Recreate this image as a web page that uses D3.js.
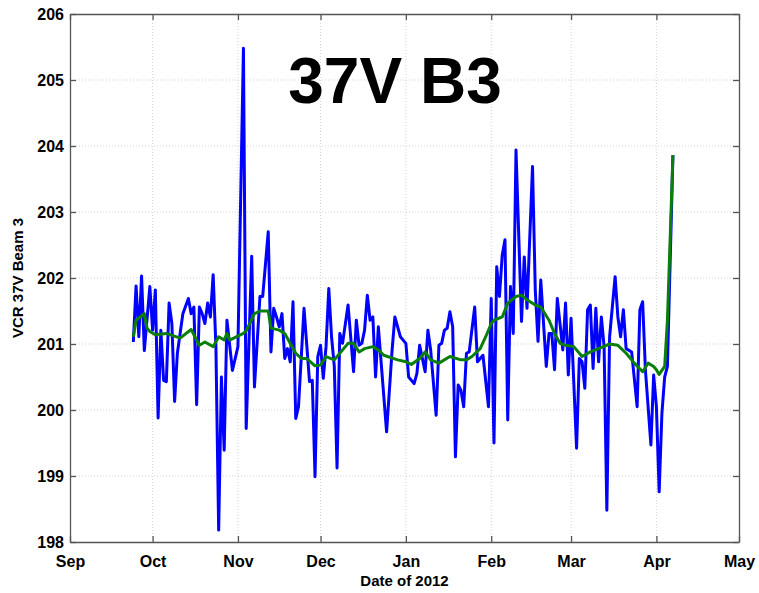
<!doctype html>
<html>
<head>
<meta charset="utf-8"/>
<title>37V B3</title>
<script src="https://d3js.org/d3.v7.min.js"></script>
<style>
body { margin: 0; background: #fff; }
text { font-family: "Liberation Sans", Arial, sans-serif; font-weight: bold; }
</style>
</head>
<body>
<svg id="svg1"></svg>
<script>
// days counted from 2011-09-01
const blueDays = [23, 24, 25, 26, 27, 29, 30, 31, 32, 33, 34, 35, 36, 37, 38, 39, 41, 43, 44, 45,
    46, 47, 48, 49, 50, 51, 52, 53, 54, 55, 56, 57, 59, 61, 63, 64, 66, 67, 69, 70,
    72, 73, 74, 75, 76, 77, 78, 79, 80, 81, 82, 83, 85, 87, 88, 89, 90, 91, 92, 93,
    94, 95, 96, 97, 98, 99, 101, 103, 104, 105, 106, 107, 108, 109, 110, 111, 112, 115, 117, 118,
    120, 122, 123, 125, 126, 127, 129, 130, 131, 133, 134, 135, 136, 137, 138, 139, 140, 141, 142, 143,
    144, 145, 147, 148, 150, 152, 153, 154, 155, 156, 157, 158, 159, 160, 161, 162, 164, 165, 166, 168,
    169, 170, 171, 173, 174, 175, 176, 177, 179, 180, 181, 182, 184, 185, 186, 187, 188, 189, 190, 191,
    192, 193, 194, 195, 196, 198, 199, 200, 201, 202, 204, 206, 207, 208, 209, 211, 212, 213, 214, 215,
    216, 217, 219];
const blueValues = [201.03, 201.88, 201.11, 202.03, 200.90, 201.87, 201.21, 201.82, 199.88, 201.21, 200.45, 200.43, 201.62, 201.31, 200.13, 200.86, 201.46, 201.69, 201.46, 201.56,
    200.08, 201.56, 201.46, 201.31, 201.62, 201.41, 202.05, 200.96, 198.18, 200.50, 199.39, 201.36, 200.60, 200.96, 205.48, 199.72, 202.33, 200.35, 201.72, 201.72,
    202.70, 200.88, 201.54, 201.41, 201.26, 201.46, 200.78, 200.93, 200.73, 201.64, 199.87, 200.05, 201.54, 200.43, 200.45, 198.99, 200.81, 200.98, 200.48, 200.96,
    201.84, 201.11, 200.66, 199.12, 201.16, 201.01, 201.59, 200.58, 201.36, 200.98, 201.01, 201.21, 201.74, 201.36, 201.41, 200.50, 201.26, 199.67, 200.91, 201.41,
    201.11, 201.01, 200.50, 200.40, 200.55, 200.98, 200.58, 201.21, 200.91, 199.92, 200.98, 201.01, 201.21, 201.24, 201.49, 201.26, 199.29, 200.38, 200.30, 200.05,
    200.86, 200.88, 201.56, 200.73, 200.83, 200.05, 201.69, 199.50, 202.17, 201.72, 202.35, 202.58, 199.85, 201.87, 201.16, 203.94, 201.34, 202.32, 201.54, 203.69,
    201.82, 201.04, 201.97, 200.66, 201.16, 201.16, 200.61, 201.69, 200.91, 201.62, 200.53, 201.39, 199.42, 200.78, 200.73, 200.33, 201.52, 201.59, 200.63, 201.54,
    200.73, 201.41, 200.96, 198.48, 201.11, 202.02, 201.41, 201.11, 201.52, 200.93, 200.88, 200.05, 201.52, 201.64, 200.61, 199.47, 200.53, 200.05, 198.76, 199.95,
    200.50, 200.66, 203.86];

const greenDays = [23, 24, 27, 28, 29, 31, 35, 40, 44, 47, 49, 52, 54, 56, 57, 58, 63, 64, 67, 69,
    72, 73, 76, 78, 82, 84, 86, 89, 91, 93, 96, 98, 101, 103, 105, 107, 110, 112, 114, 119,
    122, 124, 127, 129, 131, 134, 138, 142, 144, 146, 149, 151, 153, 154, 157, 159, 162, 164, 166, 169,
    171, 174, 176, 178, 180, 183, 186, 189, 192, 196, 199, 202, 205, 208, 210, 212, 213, 214, 216, 217,
    219];
const greenValues = [201.11, 201.36, 201.46, 201.24, 201.19, 201.14, 201.16, 201.09, 201.22, 200.98, 201.03, 200.96, 201.11, 201.06, 201.16, 201.06, 201.16, 201.20, 201.46, 201.50,
    201.50, 201.24, 201.21, 201.16, 200.86, 200.78, 200.78, 200.67, 200.68, 200.81, 200.76, 200.86, 201.01, 201.01, 200.88, 200.93, 200.96, 200.91, 200.83, 200.76,
    200.73, 200.69, 200.78, 200.88, 200.76, 200.71, 200.81, 200.76, 200.76, 200.81, 200.93, 201.11, 201.31, 201.36, 201.41, 201.62, 201.72, 201.74, 201.67, 201.59,
    201.56, 201.36, 201.16, 201.01, 200.98, 200.96, 200.81, 200.88, 200.93, 201.00, 200.98, 200.86, 200.71, 200.58, 200.71, 200.66, 200.61, 200.54, 200.66, 201.36,
    203.86];

const yTicks = [198, 199, 200, 201, 202, 203, 204, 205, 206];
const startDate = new Date(2011, 8, 1);
const endDate = new Date(2012, 4, 1);

const W = 759, H = 593;
const m_left = 70, m_right = 739, m_top = 14, m_bottom = 542;

const svg = d3.select('#svg1').attr('width', W).attr('height', H);

const x = d3.scaleTime().domain([startDate, endDate]).range([m_left, m_right]);
const y = d3.scaleLinear().domain([198, 206]).range([m_bottom, m_top]);
const xTicks = d3.timeMonth.range(startDate, d3.timeDay.offset(endDate, 1));

// grid
const grid = svg.append('g')
    .attr('stroke', '#c8c8c8')
    .attr('stroke-width', 0.8)
    .attr('stroke-dasharray', '1,2');
xTicks.slice(1, -1).forEach(function(d) {
    grid.append('line').attr('x1', x(d)).attr('x2', x(d)).attr('y1', m_top).attr('y2', m_bottom);
});
yTicks.slice(1, -1).forEach(function(v) {
    grid.append('line').attr('x1', m_left).attr('x2', m_right).attr('y1', y(v)).attr('y2', y(v));
});

// axes, MATLAB style: ticks inward on all four sides
const axBottom = svg.append('g').attr('transform', 'translate(0,' + m_bottom + ')')
    .call(d3.axisBottom(x).tickValues(xTicks).tickFormat(d3.timeFormat('%b')).tickSizeInner(-6).tickSizeOuter(0).tickPadding(14));
const axTop = svg.append('g').attr('transform', 'translate(0,' + m_top + ')')
    .call(d3.axisTop(x).tickValues(xTicks).tickFormat('').tickSizeInner(-6).tickSizeOuter(0));
const axLeft = svg.append('g').attr('transform', 'translate(' + m_left + ',0)')
    .call(d3.axisLeft(y).tickValues(yTicks).tickFormat(d3.format('d')).tickSizeInner(-6).tickSizeOuter(0).tickPadding(6));
const axRight = svg.append('g').attr('transform', 'translate(' + m_right + ',0)')
    .call(d3.axisRight(y).tickValues(yTicks).tickFormat('').tickSizeInner(-6).tickSizeOuter(0));

[axBottom, axTop, axLeft, axRight].forEach(function(a) {
    a.select('.domain').attr('stroke', '#555').attr('stroke-width', 1.3);
    a.selectAll('.tick line').attr('stroke', '#555').attr('stroke-width', 1.3);
    a.selectAll('.tick text')
        .attr('fill', '#000')
        .style('font-size', '16px')
        .style('font-family', '"Liberation Sans", Arial, sans-serif')
        .style('font-weight', 'bold');
});

// series
const blue = blueDays.map(function(d, i) { return [d3.timeDay.offset(startDate, d), blueValues[i]]; });
const green = greenDays.map(function(d, i) { return [d3.timeDay.offset(startDate, d), greenValues[i]]; });
const line = d3.line().x(function(d) { return x(d[0]); }).y(function(d) { return y(d[1]); });

svg.append('path').datum(blue)
    .attr('d', line)
    .attr('fill', 'none')
    .attr('stroke', '#0000ff')
    .attr('stroke-width', 3)
    .attr('stroke-linejoin', 'round');
svg.append('path').datum(green)
    .attr('d', line)
    .attr('fill', 'none')
    .attr('stroke', '#0a800a')
    .attr('stroke-width', 3)
    .attr('stroke-linejoin', 'round');

// labels
svg.append('text')
    .attr('x', 395).attr('y', 103)
    .attr('text-anchor', 'middle')
    .style('font-size', '64px')
    .text('37V B3');
svg.append('text')
    .attr('x', (m_left + m_right) / 2).attr('y', 586)
    .attr('text-anchor', 'middle')
    .style('font-size', '15px')
    .text('Date of 2012');
svg.append('text')
    .attr('transform', 'translate(23,' + ((m_top + m_bottom) / 2) + ') rotate(-90)')
    .attr('text-anchor', 'middle')
    .style('font-size', '15px')
    .text('VCR 37V Beam 3');
</script>
</body>
</html>
